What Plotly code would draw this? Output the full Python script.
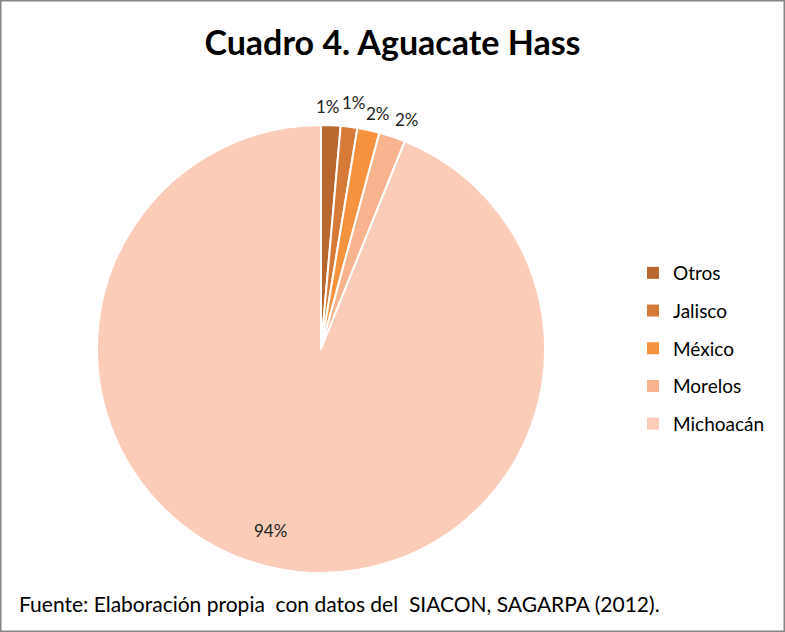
import math
import plotly.graph_objects as go

labels = ["Otros", "Jalisco", "México", "Morelos", "Michoacán"]
values = [1.4, 1.2, 1.6, 1.9, 93.9]
colors = ["#B8672E", "#D57A37", "#F7923E", "#F9B48F", "#FBCDB8"]
label_radius = [1.085, 1.11, 1.08, 1.095, 0.84]
label_nudge_deg = [-0.8, 0.4, 1.3, 2.0, 4.5]

W, H = 785, 632
cx, cy, r = 321, 349, 224

fig = go.Figure()
fig.add_trace(go.Pie(
    labels=labels, values=values, sort=False, direction="clockwise", rotation=0,
    marker=dict(colors=colors, line=dict(color="white", width=2)),
    textinfo="none", showlegend=False, hoverinfo="label+percent",
    domain=dict(x=[(cx - r) / W, (cx + r) / W], y=[(H - cy - r) / H, (H - cy + r) / H]),
))
for lab, col in zip(labels, colors):
    fig.add_trace(go.Scatter(
        x=[None], y=[None], mode="markers", name=lab, legendgroup=lab,
        marker=dict(symbol="square", size=10, color=col), showlegend=True,
    ))

# percentage labels placed at each slice's mid angle
total = sum(values)
annotations = []
cum = 0.0
for v, k, d in zip(values, label_radius, label_nudge_deg):
    mid = (cum + v / 2) / total * 2 * math.pi + math.radians(d)
    cum += v
    px = cx + k * r * math.sin(mid)
    py = cy - k * r * math.cos(mid)
    annotations.append(dict(text=f"{round(v / total * 100)}%", x=px / W, y=1 - py / H,
                            xref="paper", yref="paper", showarrow=False,
                            xanchor="center", yanchor="middle",
                            font=dict(family="Lato", size=17, color="#222222")))
annotations.append(dict(text="Fuente: Elaboración propia  con datos del  SIACON, SAGARPA (2012).",
                        x=17 / W, xanchor="left", y=1 - 603 / H, yanchor="middle",
                        xref="paper", yref="paper", showarrow=False,
                        font=dict(family="Lato", size=21, color="black")))

fig.update_layout(
    width=W, height=H, margin=dict(l=0, r=0, t=0, b=0),
    paper_bgcolor="white", plot_bgcolor="white",
    xaxis=dict(visible=False), yaxis=dict(visible=False),
    title=dict(text="<b>Cuadro 4. Aguacate Hass</b>", x=0.5, xanchor="center",
               y=1 - 43 / H, yanchor="middle",
               font=dict(family="Lato", size=34, color="black")),
    legend=dict(x=633 / W, xanchor="left", y=1 - 254 / H, yanchor="top",
                font=dict(family="Lato", size=19, color="black"),
                tracegroupgap=10, itemsizing="constant", bgcolor="rgba(0,0,0,0)"),
    annotations=annotations,
    shapes=[dict(type="rect", xref="paper", yref="paper", x0=0, y0=0, x1=1, y1=1,
                 line=dict(color="#868686", width=3))],
)
fig.write_html("out.html")
